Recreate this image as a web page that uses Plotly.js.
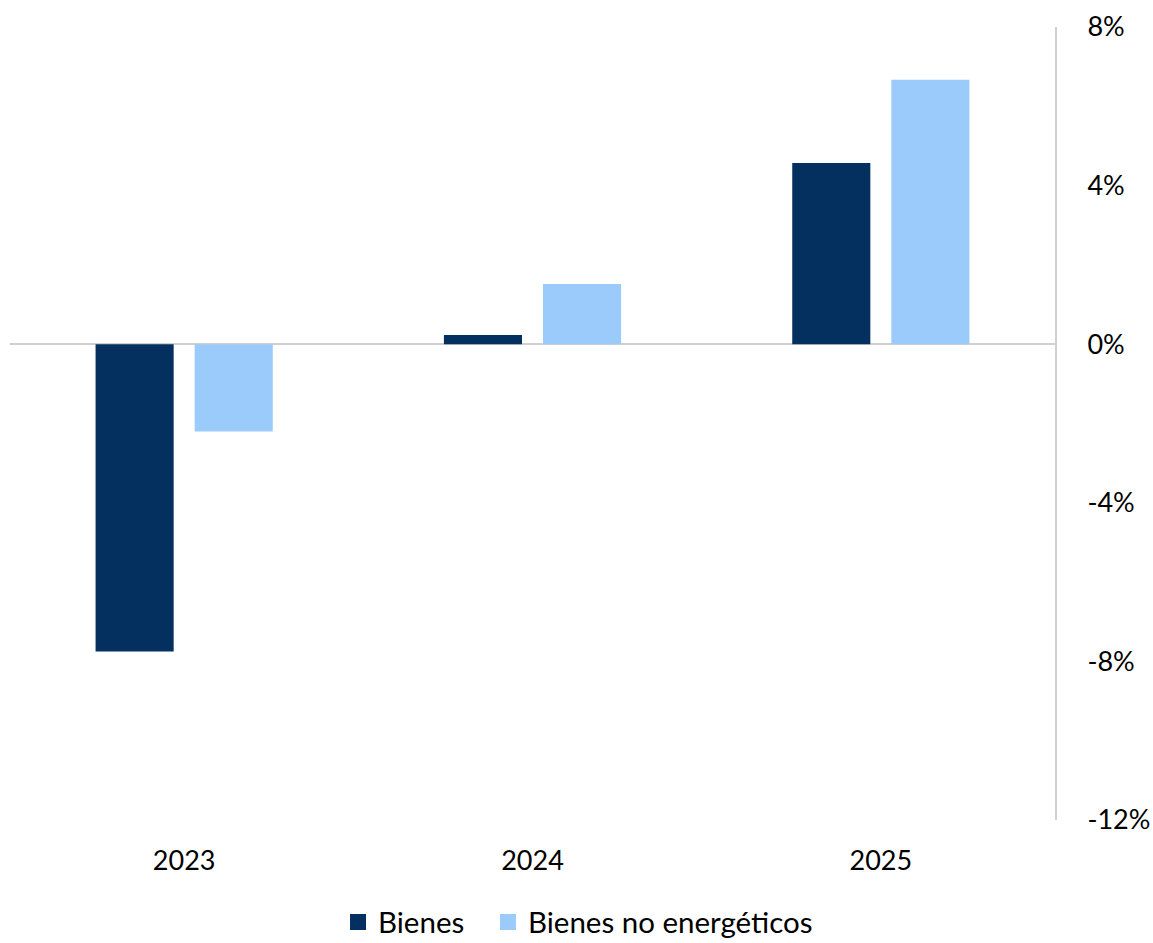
<!DOCTYPE html>
<html>
<head>
<meta charset="utf-8">
<script src="https://cdn.plot.ly/plotly-3.0.1.min.js"></script>
<style>html,body{margin:0;padding:0;background:#fff;}#chart{width:1153px;height:943px;}</style>
</head>
<body>
<div id="chart"></div>
<script>
const years = ['2023', '2024', '2025'];
const bienes = [-7.75, 0.23, 4.57];
const bienesNoEnergeticos = [-2.2, 1.52, 6.67];
const seriesNames = ['Bienes', 'Bienes no energéticos'];
const seriesColors = ['#03305E', '#9BCBFB'];
const yTicks = [-12, -8, -4, 0, 4, 8];
const yTickLabels = ['-12%', '-8%', '-4%', '0%', '4%', '8%'];

const font = 'Lato, "Open Sans", sans-serif';

const data = [
  {type: 'bar', name: seriesNames[0], x: years, y: bienes, marker: {color: seriesColors[0]}, showlegend: false},
  {type: 'bar', name: seriesNames[1], x: years, y: bienesNoEnergeticos, marker: {color: seriesColors[1]}, showlegend: false},
  // legend-only entries with larger square swatches
  {type: 'scatter', mode: 'markers', name: seriesNames[0], x: [null], y: [null], legend: 'legend',
   marker: {symbol: 'square', size: 20, color: seriesColors[0]}},
  {type: 'scatter', mode: 'markers', name: seriesNames[1], x: [null], y: [null], legend: 'legend2',
   marker: {symbol: 'square', size: 20, color: seriesColors[1]}}
];

const legendBase = {orientation: 'h', xanchor: 'left', yref: 'container', y: 0.022, yanchor: 'middle',
                    font: {size: 29.5, family: font}, itemwidth: 30};

const layout = {
  width: 1153, height: 943,
  margin: {l: 10, r: 98, t: 27, b: 123, autoexpand: false},
  paper_bgcolor: '#fff', plot_bgcolor: '#fff',
  font: {family: font, color: '#000'},
  barmode: 'group',
  bargap: 0.431,
  bargroupgap: 0.212,
  showlegend: true,
  legend: Object.assign({}, legendBase, {x: 0.3139}),
  legend2: Object.assign({}, legendBase, {x: 0.4574}),
  xaxis: {
    type: 'category', showgrid: false, zeroline: false, showline: false,
    ticks: '', tickfont: {size: 27, family: font}, ticklabelstandoff: 22
  },
  yaxis: {
    side: 'right', range: [-12, 8], tickvals: yTicks, ticktext: yTickLabels,
    showgrid: false, zeroline: true, zerolinecolor: '#d0d0d0', zerolinewidth: 2,
    showline: true, linecolor: '#d0d0d0', linewidth: 2,
    ticks: '', tickfont: {size: 27, family: font}, ticklabelstandoff: 25
  }
};

Plotly.newPlot('chart', data, layout, {displayModeBar: false, staticPlot: true});
</script>
</body>
</html>
